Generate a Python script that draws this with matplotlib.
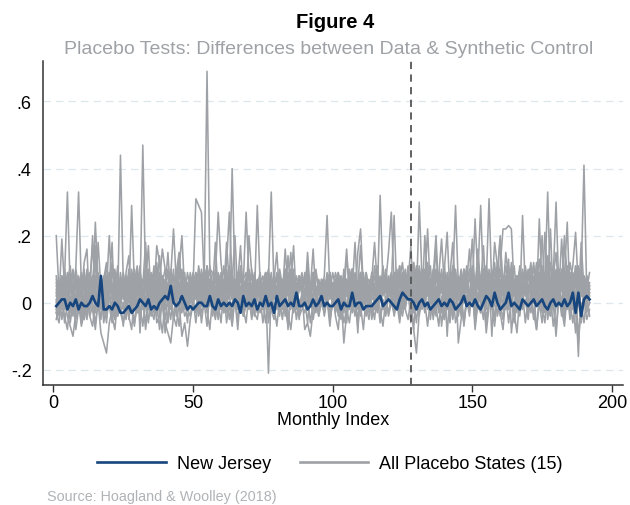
import numpy as np
import matplotlib
matplotlib.use('Agg')
import matplotlib.pyplot as plt

plt.rcParams['font.family'] = ['Liberation Sans', 'DejaVu Sans']

# values in hundredths, month index 1..192
new_jersey = [
    -1, 0, 1, 1, -2, 0, -1, 1, -2, 0, -1, -1, 0, 2, 0, -1, 8, -2, -2, -1, -2, 0, -1, -3,
    -3, -2, -1, -3, -2, -1, 1, 0, -1, 1, -2, -1, -2, 0, 1, 2, 1, 5, 0, -1, 0, 2, 0, -2,
    -1, -2, -1, 0, 0, -1, -1, 2, -1, -2, 1, -1, 0, -1, 0, -1, 1, 0, -3, 2, -1, 0, -1, 1,
    -2, 0, -1, 2, -1, 0, -3, 2, -1, 0, 1, -1, 0, -1, 3, -1, -1, 0, -2, -1, 1, -1, 0, 2,
    -1, 0, -1, -1, 0, 1, -2, 0, -1, -1, 3, -1, 0, 0, -2, -1, -1, -1, 0, 1, 2, -1, 0, 1,
    0, -1, -2, 1, 3, 2, 1, 1, 0, -2, 0, 1, -1, 0, -2, -1, 0, 1, -1, 0, -1, 1, 0, -2,
    -1, 0, 2, -1, 0, -1, 1, -1, -2, 0, 2, 1, -1, 3, 0, -2, -1, 0, 3, -1, 0, -1, -2, 1,
    0, -1, 0, 1, -1, 0, 1, -1, -2, 0, 1, -1, 0, -1, 1, -1, 0, 3, -3, 3, -4, 1, 2, 1,
]

placebo_01 = [
    20, 3, 6, -2, 8, 1, -4, 10, 5, 2, 12, 16, -3, 7, 4, 9, -1, 3, 11, 6, 18, -5, 8, 4,
    1, 9, 14, -2, 5, 3, 7, 0, 10, 6, -4, 2, 17, 12, 3, -1, 5, 7, 2, 9, 15, 4, 0, 6,
    3, 8, 2, 11, 5, 7, 69, 10, 9, 4, 6, -2, 3, 18, 5, 1, 7, 4, 10, 2, -1, 6, 3, 5,
    4, 1, 6, 9, 3, -2, 5, 8, 2, 7, 0, 4, 15, 3, 6, -1, 2, 8, 5, 3, 9, 1, 4, 6,
    2, 7, 3, 0, 5, 9, 4, -3, 6, 2, 8, 1, 5, 17, 3, 4, -1, 7, 2, 6, 3, 8, 0, 5,
    4, 9, 2, 6, -2, 8, 3, 11, 5, 1, 30, 7, 4, 10, 2, 6, -3, 8, 19, 5, 3, 9, 1, 7,
    6, 2, 10, 4, -1, 8, 3, 13, 5, 0, 7, 9, 2, 18, 11, 4, -2, 8, 3, 10, 5, 1, 7, 4,
    9, 3, 6, 12, -1, 5, 20, 2, 14, 4, 7, 0, 10, 6, 17, 9, -2, 5, 11, 7, 2, 8, 4, 1,
]
placebo_02 = [
    -3, 5, 2, 8, -1, 4, 9, 0, 6, 3, -5, 7, 2, 20, 4, -2, 6, 1, 8, 3, 12, 5, 0, 44,
    6, 2, -4, 9, 3, 7, 0, 5, 11, -2, 4, 8, 1, 6, 16, 10, -1, 5, 7, 2, 13, 4, 9, 0,
    5, 8, 3, -2, 6, 10, 2, 7, 4, 1, 9, 5, -3, 8, 2, 6, 20, 3, 0, 7, 4, 9, 2, 5,
    1, 6, 3, 8, -2, 4, 7, 15, 2, 5, 0, 9, 3, 6, -1, 4, 8, 2, 7, 5, 1, 10, 3, 6,
    4, 0, 7, 3, 9, 5, -2, 6, 2, 8, 4, 18, 1, 5, 3, 7, -1, 9, 4, 2, 32, 6, 3, 8,
    2, 7, 5, -3, 9, 4, 1, 8, 12, 3, 6, 0, 20, 5, 2, 7, -4, 9, 4, 11, 3, 6, 1, 8,
    5, -2, 9, 3, 7, 19, 2, 6, 0, 10, 4, 8, -10, 5, 12, 3, 7, 1, 9, 4, 6, -1, 11, 2,
    7, 3, 10, 0, 6, 13, 4, -2, 8, 5, 11, 2, 6, 9, -3, 4, 12, 7, 1, 5, 8, 41, 3, 0,
]
placebo_03 = [
    4, -2, 7, 1, 5, 9, 3, -4, 6, 2, 10, 0, 4, 8, -1, 5, 3, 7, 12, 2, -3, 6, 9, 1,
    5, 3, 8, -2, 6, 11, 2, 47, 7, 0, 4, 9, 3, -1, 6, 10, 2, 5, 8, 1, 4, 7, -2, 3,
    6, 2, 9, 4, 0, 7, 3, 11, 5, -1, 8, 2, 6, 4, 10, 1, 5, 3, -2, 7, 9, 2, 4, 6,
    3, 8, 1, 5, -21, 4, 7, 2, 9, 0, 6, 3, 10, 5, -1, 8, 2, 4, 7, 1, 6, 9, 3, 0,
    5, 2, 8, 4, -2, 7, 1, 10, 3, 6, 0, 9, 4, 2, 7, 5, -1, 8, 3, 6, 2, 11, 4, 1,
    7, 3, -2, 9, 5, 1, 8, 4, 12, 2, 6, -1, 10, 3, 7, 5, 0, 9, 4, 2, 8, 6, -3, 5,
    2, 9, 4, 7, 1, 11, 5, -2, 8, 3, 6, 31, 4, 0, 9, 5, 2, 7, 13, -9, -1, 6, 10, 4,
    6, 1, 8, 4, 10, 2, -3, 7, 5, 12, 3, 0, 9, 6, 2, 8, 4, -2, 11, 5, 3, 7, 1, 6,
]
placebo_04 = [
    2, 6, -1, 8, 33, 4, 0, 7, 3, 9, 5, -2, 6, 1, 17, 4, 7, 2, -3, 8, 5, 3, 11, 0,
    4, 8, 2, 6, -1, 9, 3, 5, 18, 1, 7, 4, -2, 8, 3, 6, 10, 0, 5, 2, 9, 4, 7, 1,
    8, 3, 6, -2, 10, 4, 1, 7, 5, 9, 2, 6, 0, 8, 3, 40, 7, 2, 11, 4, -1, 20, 9, 3,
    2, 7, 4, 0, 9, 5, 3, 8, -2, 6, 1, 14, 4, 7, 2, 5, 9, 0, 6, 3, 8, 4, -1, 7,
    3, 9, 1, 6, 4, 8, -3, 5, 16, 2, 7, 0, 4, 9, 3, 6, 1, 8, 5, -2, 7, 3, 10, 4,
    8, 2, 6, 11, 0, 5, 9, 3, -2, 7, 4, 10, 1, 6, 3, 8, 20, 2, 5, -3, 9, 4, 7, 1,
    4, 10, 3, 7, -1, 6, 2, 9, 5, 17, 0, 8, 4, 6, 1, 10, 3, -2, 7, 5, 11, 2, 8, 4,
    3, 7, 12, 1, 5, 9, -2, 6, 33, 4, 8, 2, 10, 5, -1, 7, 3, 9, 6, 0, 18, 4, 8, 2,
]
placebo_05 = [
    6, 1, 19, 4, -2, 7, 3, 10, 33, 5, 0, 8, 2, 6, 11, 3, -1, 7, 4, 9, 1, 5, 8, 2,
    7, 3, 10, 0, 6, 4, 9, -2, 5, 8, 2, 11, 4, 6, 1, 7, 3, 9, 0, 5, 14, 2, 6, 4,
    1, 7, 4, 9, 3, -1, 8, 5, 2, 10, 6, 0, 7, 3, 9, 4, 1, 6, 17, 2, 5, 8, -2, 4,
    7, 2, 5, 9, 1, 6, 3, 8, 4, -1, 10, 2, 6, 5, 0, 7, 3, 9, 2, 5, 8, 1, 4, 6,
    2, 6, 9, 3, 5, 0, 8, 4, 7, 1, 10, 3, -2, 6, 9, 2, 5, 7, 0, 4, 8, 3, 6, 15,
    27, 5, 1, 8, 4, 10, 2, 6, -3, 9, 3, 7, 0, 12, 5, 2, 8, 4, 10, -1, 6, 3, 9, 5,
    1, 8, 4, 11, 2, 6, -2, 9, 5, 3, 10, 7, 0, 4, 8, 19, 3, 6, -1, 9, 2, 5, 7, 3,
    10, 4, 7, 0, 9, 5, 2, 21, 6, -2, 8, 30, 4, 7, 1, 10, 5, 3, 8, 11, 2, 6, 4, 9,
]
placebo_06 = [
    -1, 5, 8, 2, 6, 11, 3, -3, 7, 4, 9, 1, 5, 8, 2, 18, 4, 0, 6, 3, 9, 5, -2, 7,
    3, 8, 1, 29, 5, 2, 9, 4, 0, 7, 3, 10, 6, -2, 8, 4, 15, 1, 5, 7, 2, 9, 3, 6,
    4, 0, 8, 5, 2, 10, 6, 3, -1, 7, 4, 9, 1, 6, 11, 3, 5, 0, 8, 2, 7, 4, 10, 1,
    6, 3, -2, 8, 4, 9, 1, 5, 7, 2, 16, 4, 0, 6, 3, 8, 5, -1, 7, 2, 9, 4, 6, 3,
    8, 26, 4, 1, 6, 9, 3, 7, -2, 5, 10, 2, 6, 4, 8, 0, 3, 7, 18, 5, 1, 9, 4, 6,
    3, 7, 10, 2, 5, -1, 8, 4, 6, 11, 1, 9, 3, 7, 0, 5, 10, 2, 6, 8, -10, 4, 7, 29,
    5, 2, 9, 6, 0, 8, 3, 16, 4, 7, -2, 10, 5, 1, 8, 3, 6, 11, 2, 7, 4, -1, 9, 5,
    2, 8, 5, 11, 3, -2, 7, 4, 10, 1, 6, 9, 3, 19, 5, 0, 8, 4, 7, 2, 10, 6, -1, 5,
]
placebo_07 = [
    5, 2, 8, -1, 6, 3, 10, 4, 1, 7, 5, -3, 9, 2, 24, 6, 3, 8, 0, 5, 11, 4, 7, 2,
    9, 4, 1, 6, 3, 10, -9, 7, 5, 2, 8, 4, 12, 0, 6, 3, 9, 5, 1, 7, 4, 10, 2, 6,
    3, 9, 5, 1, 7, 4, 11, 2, 6, -2, 8, 5, 3, 10, 1, 6, 4, 9, 0, 7, 3, 5, 8, 2,
    29, 6, 2, 8, 4, 0, 7, 3, 10, 5, 1, 6, 9, -2, 4, 8, 3, 6, 11, 2, 5, 0, 7, 4,
    6, 1, 9, 4, 7, 3, -1, 8, 5, 2, 10, 6, 3, 9, 0, 5, 7, 2, 11, 4, 1, 8, 3, 6,
    9, 4, 1, 7, 12, 3, 6, -2, 8, 5, 10, 2, 7, 4, 11, 0, 6, 9, 3, 5, -1, 8, 4, 10,
    2, 7, 4, 10, 1, 6, 3, 8, 29, 5, 0, 9, 4, 12, 2, 7, -2, 5, 10, 3, 6, 8, 1, 4,
    11, 3, 6, 0, 9, 5, 2, 8, 13, 4, -1, 7, 3, 10, 6, 1, 9, 5, 2, -16, 8, 4, 6, 3,
]
placebo_08 = [
    -3, -6, 1, -4, -8, 2, -2, -5, 0, -7, -3, 3, -4, -1, -6, 0, -9, -12, -15, -6, -2, -5, 1, -3,
    -6, 0, -4, -8, 2, -3, -1, -7, 1, -5, -2, 3, -6, -4, 0, -9, -3, 2, -5, -1, -7, 1, -4, -2,
    0, 5, 31, 29, 27, 6, -2, 3, -4, 1, -1, 4, -3, 2, -5, 0, 3, -2, 5, -4, 1, -1, 2, -3,
    -5, 1, -2, 3, -6, 0, -3, 2, -1, 4, -4, 0, -2, 3, -5, 1, -1, -3, 2, -6, 0, 1, -4, 2,
    -2, 3, -5, 0, -1, 4, -3, 1, -6, 2, -2, 0, 3, -4, 1, -1, -5, 2, 0, -3, 4, -2, 1, -4,
    0, -3, 3, -5, 1, -2, 4, -6, -1, 2, -4, 3, 0, -7, 1, -2, 5, -3, 0, -5, 2, -1, -4, 3,
    -3, 1, -6, 2, -1, 4, -5, 0, -2, 3, -7, 1, -1, -4, 2, 0, -5, 3, -2, 1, -6, 2, -1, 26,
    4, -3, 1, -5, 2, 0, -6, 3, -2, -4, 1, -8, 2, -1, -5, 3, -3, 0, -9, 1, -4, 2, -2, 0,
]
placebo_09 = [
    1, -4, 3, -2, 5, -6, 0, 2, -3, 6, -1, -5, 4, 0, -3, 7, -2, 1, -6, 3, -1, 5, -4, 2,
    -2, 4, -5, 1, 6, -3, 0, 3, -7, 2, -1, 5, -4, 1, 8, -2, 0, -5, 3, -1, 4, -3, 2, -6,
    3, -1, 5, -4, 0, 2, -3, 6, -2, 1, -5, 4, 0, -1, 3, -6, 2, 5, -3, 0, 4, -2, 1, -4,
    2, 5, -1, 3, 7, 33, 4, -2, 1, 5, -3, 0, 6, -1, 2, -4, 3, 1, -2, 5, 0, -3, 4, 1,
    -1, 3, -4, 2, 0, 5, -3, 1, 4, -2, 6, 0, -5, 3, -1, 2, 5, -3, 1, -2, 4, 0, -4, 2,
    3, -2, 5, 0, -4, 2, 6, -1, -8, -15, -3, 4, 1, -2, 7, -5, 3, 0, -3, 5, 2, -6, 4, -1,
    2, -4, 6, 1, -2, 8, -3, 3, 0, -5, 5, 2, -1, 7, -4, 1, 4, -2, 9, 0, -3, 5, 2, -1,
    6, -2, 3, 8, 1, 25, 4, -3, 2, 7, -1, 4, 0, 6, -4, 3, 9, -2, 1, 5, -6, 2, -3, 0,
]
placebo_10 = [
    8, 3, -2, 6, 1, 9, 4, 0, 7, 2, -3, 10, 5, 1, 8, 3, 6, -1, 4, 20, 2, 7, 0, 5,
    3, 7, 1, 10, 4, -2, 8, 2, 6, 17, 0, 5, 9, 3, -1, 7, 4, 10, 2, 6, 1, 8, 3, -2,
    6, 2, 9, 4, 7, 0, 11, 3, 5, 8, 27, 12, 4, 1, 6, 9, 2, 7, -1, 5, 3, 10, 4, 0,
    5, 9, 2, 6, 0, 8, 4, 1, 7, 3, 10, -8, 5, 2, 8, 4, 6, 0, 9, 3, 7, 1, 5, 4,
    1, 6, 3, 9, 5, -1, 7, 2, 14, 4, 0, 8, 3, 6, 1, 9, 4, 7, -2, 5, 2, 8, 6, 3,
    7, 0, 5, 10, 2, 8, 4, -1, 6, 3, 11, 5, 1, 9, 4, 7, -2, 6, 3, 10, 21, 2, 8, 4,
    3, 8, 1, 6, 16, 4, 25, 7, 2, 9, -1, 5, 10, 3, 6, 0, 8, 4, 11, 2, 7, 5, -3, 9,
    4, 10, 2, 7, 5, -1, 9, 3, 6, 22, 1, 8, 4, 0, 7, 11, 3, 6, 9, 2, 5, 8, 1, 4,
]
placebo_11 = [
    0, 6, 3, 9, -2, 5, 1, 7, 4, -4, 8, 2, 6, 0, 15, 3, 5, -1, 7, 4, 2, 9, -3, 6,
    2, 8, 4, 0, 7, 3, 11, -1, 5, 2, 9, 6, -3, 4, 8, 1, 6, 3, 10, 0, 5, 7, 2, 9,
    4, -2, 7, 3, 9, 1, 6, 10, 2, 5, -1, 8, 4, 12, 27, 6, 2, 9, 3, 0, 7, 5, 1, 8,
    3, 6, 0, 9, 4, 2, 7, -2, 5, 1, 8, 3, 6, 17, 0, 4, 7, 2, 5, -1, 9, 3, 6, 2,
    5, 1, 8, 3, -4, -8, 2, -12, -3, 4, 7, 0, 5, 9, 2, 6, -1, 3, 8, 4, 1, 7, 5, 2,
    6, 9, 3, 0, 7, 4, 11, 2, 5, -2, 8, 6, 1, 10, 3, 7, 4, -1, 9, 5, 2, 8, 18, 3,
    7, 2, 10, 5, 0, 8, 4, 13, 6, 1, 9, 3, -2, 7, 5, 11, 22, 22, 23, 22, 4, 8, 1, 6,
    3, 9, 5, 0, 11, 6, 2, 8, -3, 4, 10, 7, 1, 5, 20, 3, 8, -2, 6, 9, 4, 0, 7, 5,
]
placebo_12 = [
    7, 2, 5, 10, 0, 6, 3, 8, -1, 4, 9, 2, 6, 17, 3, -2, 7, 5, 1, 8, 4, 10, 2, 6,
    4, 0, 8, 5, 2, 9, 3, -2, 6, 10, 1, 7, 4, 14, 3, 5, -1, 8, 22, 6, 2, 9, 4, 0,
    9, 4, 1, 7, 3, 10, 5, -1, 6, 2, 8, 4, 11, 0, 5, 7, 3, 9, 2, 6, 27, 8, 4, 1,
    4, 8, 2, 6, 10, 1, 5, 3, 9, -2, 7, 4, 0, 6, 2, 8, 5, 1, 15, 3, 6, 4, -1, 7,
    6, 3, 9, 1, 5, 8, 0, 4, 7, 2, 10, 5, -9, 6, 3, 9, 1, 7, 4, 11, 2, 5, 8, 3,
    2, 8, 4, 11, 5, 0, 7, 3, 10, 6, -1, 4, 9, 2, 7, 5, 16, 1, 6, 3, 8, -2, 5, 9,
    -12, -5, 3, 8, 1, 10, 5, -2, 7, 4, 11, 2, 6, 9, 0, 5, 3, 15, 7, -1, 4, 8, 2, 10,
    5, 1, 8, 3, 12, 6, -2, 9, 4, 7, 2, 10, 5, 0, 8, 3, 6, 11, 21, 4, 9, 1, 6, 3,
]
placebo_13 = [
    -5, -1, 2, -6, 0, -3, 4, -8, -2, 1, -5, 3, -4, -7, 0, -2, 5, -6, -1, 2, -4, -8, 1, -3,
    0, -5, 3, -2, -7, 1, -4, 2, -1, -6, 4, -3, 0, -8, 2, -5, 1, -2, 5, -4, 10, 20, 3, -2,
    -4, 1, -6, 2, -3, 0, -7, 3, -1, -5, 2, -2, 4, -6, 0, -3, 1, -8, 3, -4, -1, 2, -5, 0,
    2, -3, 0, -6, 3, -2, -5, 1, -4, 4, -1, -7, 2, -3, 0, -5, 3, -8, -6, -10, -2, 1, -4, 0,
    -3, 2, -5, 0, 3, -4, 1, -6, -2, 4, -3, 0, -7, 2, -1, -4, 3, -5, 0, 2, -6, 1, -3, 4,
    5, 26, 2, -3, 4, -1, 6, -4, 1, -6, 3, -2, 0, 5, -5, 2, -3, 4, -7, 1, -2, 3, -5, 0,
    -4, 2, -6, 1, -2, 4, -8, 0, -3, 3, -5, 1, -1, -7, 2, -4, 0, 3, -6, 1, -3, -9, 2, -2,
    1, -5, 3, -3, -8, 2, -1, -6, 4, -4, 0, -10, 2, -2, -7, 3, -5, 1, -3, -12, 0, -6, 2, -4,
]
placebo_14 = [
    -2, 3, -5, 1, -4, -7, -10, -3, 2, -6, 0, -4, 3, -2, -8, 1, -5, 4, -3, -1, -6, 2, -4, 0,
    -7, 1, -3, 3, -6, -1, -4, 2, -8, 0, -2, -5, 4, -3, -9, 1, -6, 2, -4, -7, 0, -10, -6, -13,
    -5, 0, -3, 3, -6, 1, -2, -8, 2, -4, 0, -6, 4, -3, -1, -7, 2, -5, 1, -2, -6, 3, -4, 0,
    -3, 2, -6, 0, -4, 3, -1, -7, 1, -5, 2, -3, -8, 0, 4, -4, -2, 1, -6, 3, -5, 0, -2, 2,
    -4, 1, -7, 2, -3, 0, -5, 3, -2, -6, 1, -4, 4, -1, -8, 2, -3, 0, -5, 3, -2, -7, 1, -3,
    2, -4, 0, -6, 3, -2, -5, 1, -8, 4, -3, 0, 6, 22, 3, -4, -1, -7, 2, -5, 0, -3, 4, -6,
    -2, 3, -7, 1, -4, 5, -6, 0, -3, 2, -9, -1, 4, -5, 1, -3, -8, 2, -2, 6, -5, 0, -4, 3,
    -6, 1, -3, 4, -8, 0, -2, 5, -5, 2, -7, -1, 3, -4, 8, 24, 0, -6, 2, -9, -3, 1, -5, -2,
]
placebo_15 = [
    3, -1, 6, 2, 9, -3, 5, 1, 8, 4, -2, 7, 0, 5, 16, 2, 6, -4, 3, 8, 1, 4, -1, 9,
    2, 6, 0, 4, 10, -2, 7, 3, 1, 8, -3, 5, 2, 9, 0, -6, -9, -12, -4, 3, 6, 1, 7, 4,
    0, 8, 3, 5, -1, 9, 2, 6, 4, 18, 1, 7, -2, 5, 3, 10, 0, 6, 4, -3, 8, 2, 5, 9,
    1, 5, 8, 2, 6, -1, 4, 9, 3, 0, 7, 5, 2, 10, -2, 6, 3, 8, 1, 4, 16, 2, 6, 0,
    7, 3, 9, 1, 5, -2, 8, 4, 2, 10, 6, 0, 15, 22, 4, 7, 1, 9, 3, -1, 6, 2, 8, 5,
    1, 7, 4, -2, 9, 3, 6, 17, 0, 5, 8, 2, -3, 7, 4, 10, 1, 6, 3, 9, -1, 5, 11, 2,
    8, 4, 0, 6, 10, 2, -2, 7, 5, 3, 11, 1, 6, -1, 9, 20, 4, 7, 2, 12, 5, -3, 8, 3,
    6, 2, 9, 4, -1, 7, 11, 3, 5, 0, 8, 15, 2, 6, 9, -2, 4, 7, 1, 10, 5, 3, 8, 4,
]

placebos = [placebo_01, placebo_02, placebo_03, placebo_04, placebo_05,
            placebo_06, placebo_07, placebo_08, placebo_09, placebo_10,
            placebo_11, placebo_12, placebo_13, placebo_14, placebo_15]

treat_month = 128
y_ticks = [-0.2, 0, 0.2, 0.4, 0.6]
y_labels = ['-.2', '0', '.2', '.4', '.6']
x_ticks = [0, 50, 100, 150, 200]

gray = '#9ea2a6'
navy = '#17457d'

fig = plt.figure(figsize=(6.3, 5.06), dpi=100)
ax = fig.add_axes([0.068, 0.238, 0.921, 0.639])

for yt in y_ticks:
    ax.axhline(yt, color='#dde7ec', lw=0.9, dashes=(6, 4), zorder=0)

for s in placebos:
    months = np.arange(1, len(s) + 1)
    ax.plot(months, np.array(s) / 100, color=gray, lw=1.15, zorder=2)

months = np.arange(1, len(new_jersey) + 1)
ax.plot(months, np.array(new_jersey) / 100, color=navy, lw=1.9, zorder=3)

ax.axvline(treat_month, color='#555555', lw=1.3, dashes=(4, 3), zorder=4)

ax.set_xlim(-3.8, 204)
ax.set_ylim(-0.244, 0.72)
ax.set_xticks(x_ticks)
ax.set_yticks(y_ticks)
ax.set_yticklabels(y_labels)
ax.tick_params(axis='x', length=5, width=1, color='#333333', labelsize=13, pad=2)
ax.tick_params(axis='y', length=0, labelsize=13, pad=8)
for sp in ['top', 'right']:
    ax.spines[sp].set_visible(False)
for sp in ['left', 'bottom']:
    ax.spines[sp].set_color('#333333')
    ax.spines[sp].set_linewidth(1.1)
ax.set_xlabel('Monthly Index', fontsize=13, labelpad=0)

fig.text(0.532, 1 - 23 / 506, 'Figure 4', ha='center', va='center',
         fontsize=14.5, fontweight='bold', color='black')
fig.text(0.521, 1 - 50 / 506, 'Placebo Tests: Differences between Data & Synthetic Control',
         ha='center', va='center', fontsize=14, color=gray)

h_nj, = ax.plot([], [], color=navy, lw=1.9, label='New Jersey')
h_pl, = ax.plot([], [], color=gray, lw=1.9, label='All Placebo States (15)')
fig.legend(handles=[h_nj, h_pl], loc='center', bbox_to_anchor=(0.524, 1 - 465 / 506),
           ncol=2, frameon=False, fontsize=13, handlelength=3.8,
           handletextpad=0.6, columnspacing=1.6)

fig.text(47 / 630, 1 - 497 / 506, 'Source: Hoagland & Woolley (2018)', ha='left',
         va='center', fontsize=10.4, color='#b0b3b6')

plt.savefig('out.png', dpi=100)
plt.close()
